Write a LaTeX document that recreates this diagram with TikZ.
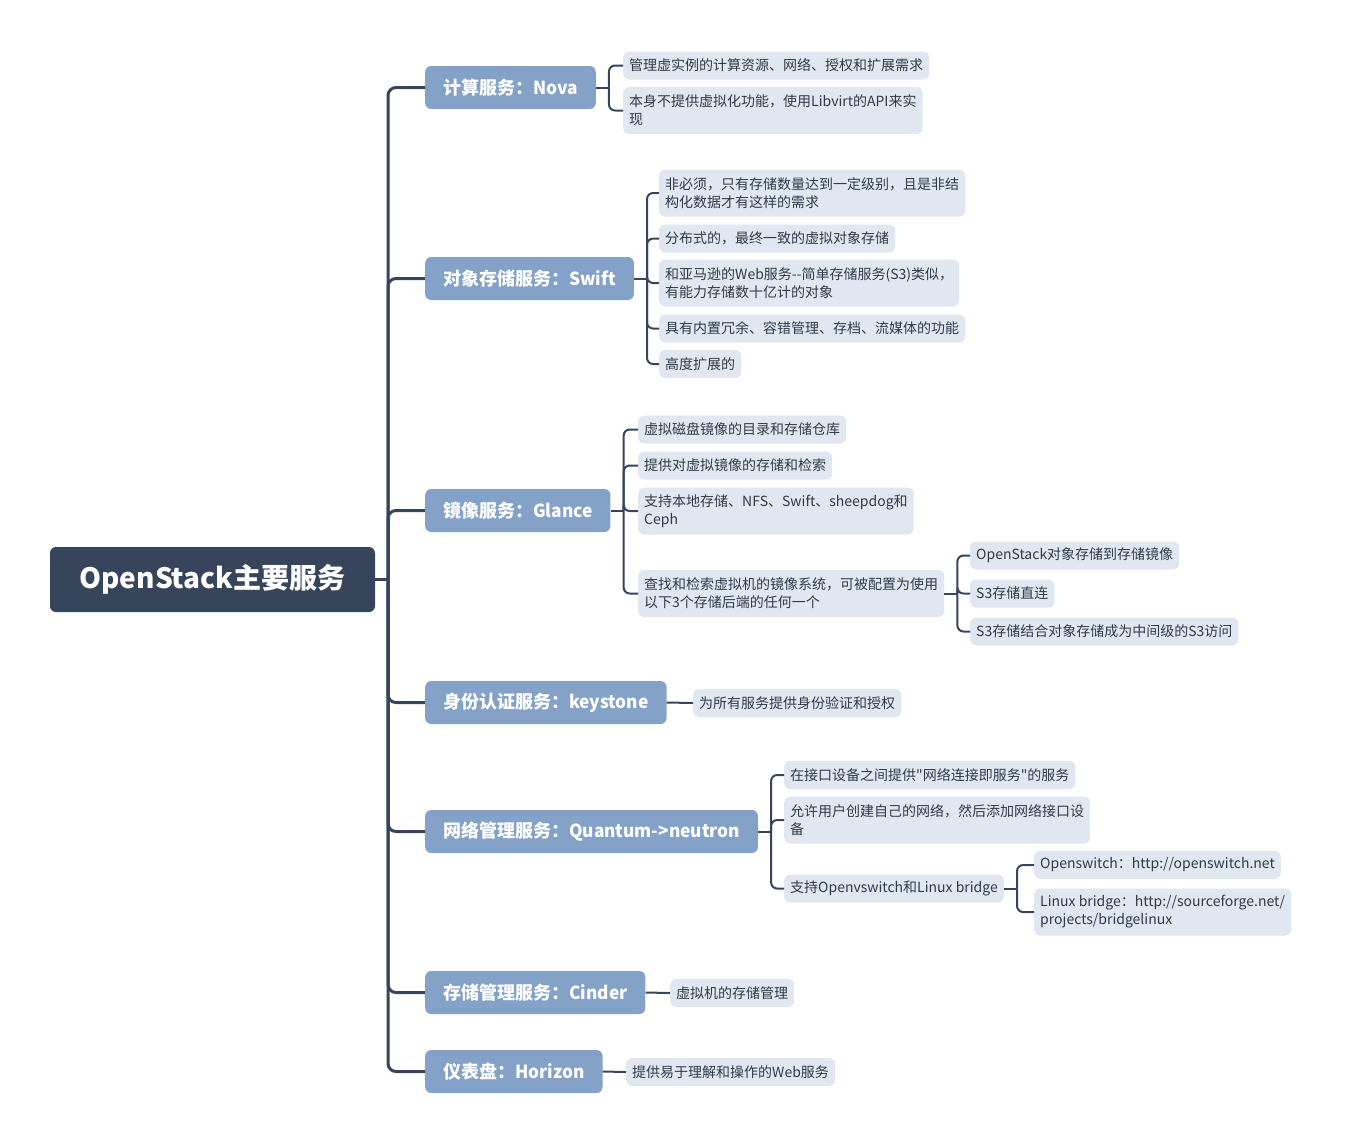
\documentclass[tikz,border=0pt]{standalone}
\usepackage{fontspec}
\setmainfont{Noto Sans CJK SC}
\newfontfamily\rawq{Noto Sans CJK SC}[Ligatures=TeXOff]
\usetikzlibrary{calc}
\definecolor{rootc}{HTML}{36455C}
\definecolor{lonec}{HTML}{84A2C8}
\definecolor{ltwoc}{HTML}{E1E7F0}
\definecolor{txtc}{HTML}{2F3A4A}
\definecolor{linec}{HTML}{36455C}
\newcommand{\latn}[1]{{\addfontfeature{FakeStretch=0.96}#1}}
\tikzset{
  rootbox/.style={fill=rootc, rounded corners=6pt, text=white, font=\fontsize{28}{32}\selectfont\bfseries, minimum width=325pt, minimum height=65pt, inner sep=0pt},
  lone/.style={fill=lonec, rounded corners=6pt, text=white, font=\fontsize{18}{22}\selectfont\bfseries, inner xsep=18pt, inner ysep=0pt, minimum height=43pt, anchor=west},
  ltwo/.style={fill=ltwoc, rounded corners=6pt, text=txtc, font=\fontsize{14}{18}\selectfont, inner xsep=6pt, inner ysep=0pt, minimum height=28pt, anchor=west, align=left},
  twol/.style={minimum height=47pt},
  trunk/.style={draw=linec, line width=3pt, rounded corners=8pt},
  conn/.style={draw=linec, line width=2pt, rounded corners=6pt}
}
\begin{document}
\begin{tikzpicture}[x=1pt,y=-1pt]
\useasboundingbox (0,0) rectangle (1349,1144);
% root
\node[rootbox] (root) at (212.5,579.5) {OpenStack主要服务};
% level 1
\node[lone] (nova) at (425,87.5) {计算服务：\latn{Nova}};
\node[lone] (swift) at (425,278.5) {对象存储服务：\latn{Swift}};
\node[lone] (glance) at (425,510.5) {镜像服务：\latn{Glance}};
\node[lone] (keystone) at (425,702.5) {身份认证服务：\latn{keystone}};
\node[lone] (neutron) at (425,831.5) {网络管理服务：\latn{Quantum->neutron}};
\node[lone] (cinder) at (425,992.5) {存储管理服务：\latn{Cinder}};
\node[lone] (horizon) at (425,1071.5) {仪表盘：\latn{Horizon}};
% trunk
\coordinate (rj) at (388,579.5);
\draw[trunk] (root.east) -- (rj);
\foreach \c in {nova,swift,glance,keystone,neutron,cinder,horizon}{
  \draw[trunk] (rj) |- (\c.west);
}
% nova children
\node[ltwo] (n1) at (623,65.5) {管理虚实例的计算资源、网络、授权和扩展需求};
\node[ltwo,twol] (n2) at (623,110.5) {本身不提供虚拟化功能，使用Libvirt的API来实\\现};
\coordinate (nj) at ($(nova.east)+(13,0)$);
\draw[conn] (nova.east) -- (nj);
\foreach \c in {n1,n2}{\draw[conn] (nj) |- (\c.west);}
% swift children
\node[ltwo,twol] (s1) at (659,193) {非必须，只有存储数量达到一定级别，且是非结\\构化数据才有这样的需求};
\node[ltwo] (s2) at (659,238.5) {分布式的，最终一致的虚拟对象存储};
\node[ltwo,twol] (s3) at (659,283) {和亚马逊的Web服务{-}{-}简单存储服务(S3)类似，\\有能力存储数十亿计的对象};
\node[ltwo] (s4) at (659,328.5) {具有内置冗余、容错管理、存档、流媒体的功能};
\node[ltwo] (s5) at (659,364) {高度扩展的};
\coordinate (sj) at ($(swift.east)+(13,0)$);
\draw[conn] (swift.east) -- (sj);
\foreach \c in {s1,s2,s3,s4,s5}{\draw[conn] (sj) |- (\c.west);}
% glance children
\node[ltwo] (g1) at (638,429.5) {虚拟磁盘镜像的目录和存储仓库};
\node[ltwo] (g2) at (638,465.5) {提供对虚拟镜像的存储和检索};
\node[ltwo,twol] (g3) at (638,511) {支持本地存储、NFS、Swift、sheepdog和\\Ceph};
\node[ltwo,twol] (g4) at (638,593.5) {查找和检索虚拟机的镜像系统，可被配置为使用\\以下3个存储后端的任何一个};
\coordinate (gj) at ($(glance.east)+(13,0)$);
\draw[conn] (glance.east) -- (gj);
\foreach \c in {g1,g2,g3,g4}{\draw[conn] (gj) |- (\c.west);}
% glance g4 children
\node[ltwo] (h1) at (970,555.5) {OpenStack对象存储到存储镜像};
\node[ltwo] (h2) at (970,593.5) {S3存储直连};
\node[ltwo] (h3) at (970,631.5) {S3存储结合对象存储成为中间级的S3访问};
\coordinate (hj) at ($(g4.east)+(13,0)$);
\draw[conn] (g4.east) -- (hj);
\foreach \c in {h1,h2,h3}{\draw[conn] (hj) |- (\c.west);}
% keystone
\node[ltwo] (k1) at (693,703) {为所有服务提供身份验证和授权};
\draw[conn] (keystone.east) -- (k1.west);
% neutron children
\node[ltwo] (q1) at (784,775) {在接口设备之间提供{\rawq"}网络连接即服务{\rawq"}的服务};
\node[ltwo,twol] (q2) at (784,820) {允许用户创建自己的网络，然后添加网络接口设\\备};
\node[ltwo] (q3) at (784,888.5) {支持Openvswitch和Linux bridge};
\coordinate (qj) at ($(neutron.east)+(13,0)$);
\draw[conn] (neutron.east) -- (qj);
\foreach \c in {q1,q2,q3}{\draw[conn] (qj) |- (\c.west);}
% q3 children
\node[ltwo] (r1) at (1034,865) {Openswitch：http://openswitch.net};
\node[ltwo,twol] (r2) at (1034,912) {Linux bridge：http://sourceforge.net/\\projects/bridgelinux};
\coordinate (rj2) at ($(q3.east)+(13,0)$);
\draw[conn] (q3.east) -- (rj2);
\foreach \c in {r1,r2}{\draw[conn] (rj2) |- (\c.west);}
% cinder
\node[ltwo] (c1) at (670,993) {虚拟机的存储管理};
\draw[conn] (cinder.east) -- (c1.west);
% horizon
\node[ltwo] (z1) at (626,1072) {提供易于理解和操作的Web服务};
\draw[conn] (horizon.east) -- (z1.west);
\end{tikzpicture}
\end{document}
